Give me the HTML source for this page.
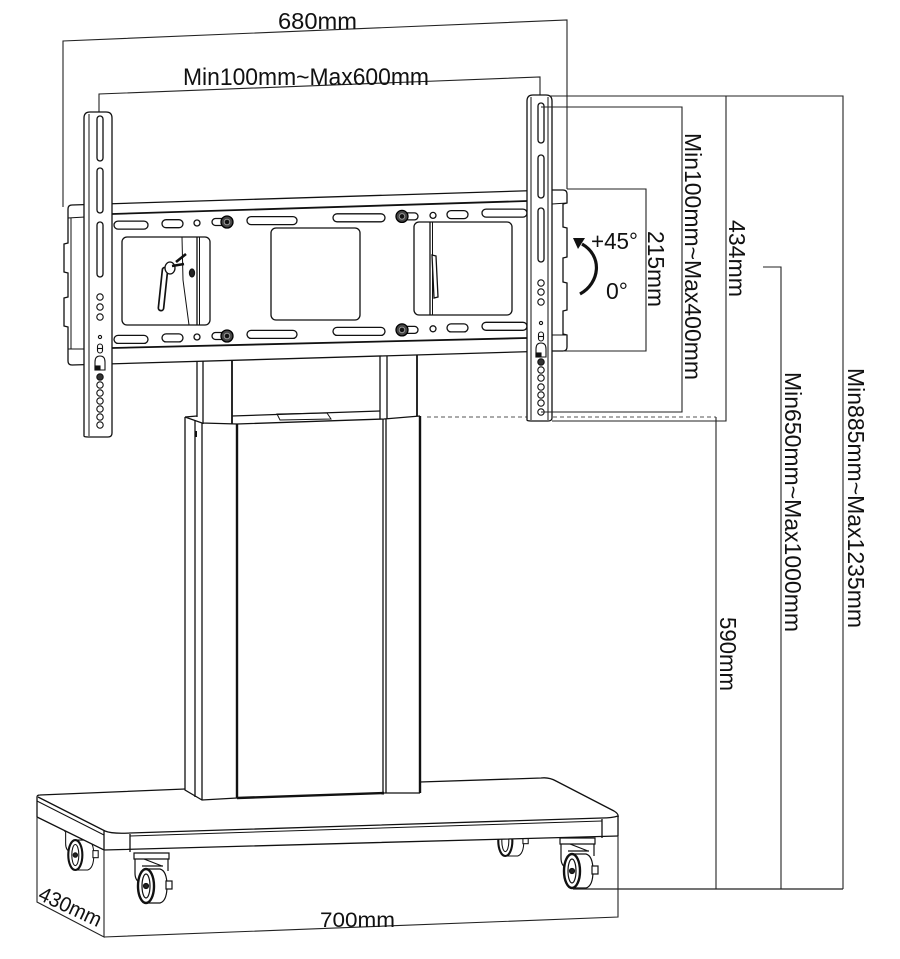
<!DOCTYPE html>
<html><head><meta charset="utf-8">
<style>
html,body{margin:0;padding:0;background:#fff;}
svg{display:block;}
text{font-family:"Liberation Sans",Arial,sans-serif;font-size:23px;fill:#111;}
</style></head><body>
<svg width="900" height="959" viewBox="0 0 900 959" xmlns="http://www.w3.org/2000/svg">

<!-- ===== dimension lines (behind) ===== -->
<g fill="none" stroke="#222" stroke-width="1.1">
  <polyline points="63,207 63,41 567,20 567,189"/>
  <polyline points="99,118 99,94 540,77 540,104"/>
  <line x1="427" y1="417" x2="716" y2="417" stroke="#555" stroke-dasharray="4,3"/>
</g>

<!-- ===== back casters ===== -->
<g fill="none" stroke="#111" stroke-width="1.2">
  <g transform="translate(63,826) scale(0.88)">
    <path d="M2,0 L37,0 L37,6 L2,6 Z" fill="#fff"/>
    <path d="M3,6 L3,20 Q3,28 9,30"/><path d="M36,6 L36,18"/>
    <path d="M14,16 L28,16 Q35,18 35,33 Q35,48 28,50 L14,50" fill="#fff"/>
    <ellipse cx="14" cy="33" rx="8" ry="17" fill="#fff" stroke-width="2.4"/>
    <ellipse cx="14" cy="33" rx="4" ry="12"/>
    <rect x="34" y="28" width="6" height="8" fill="#fff"/>
    <circle cx="14" cy="33" r="2.5" fill="#222"/>
  </g>
  <g transform="translate(493,812) scale(0.88)">
    <path d="M2,0 L37,0 L37,6 L2,6 Z" fill="#fff"/>
    <path d="M3,6 L3,20 Q3,28 9,30"/><path d="M36,6 L36,18"/>
    <path d="M14,16 L28,16 Q35,18 35,33 Q35,48 28,50 L14,50" fill="#fff"/>
    <ellipse cx="14" cy="33" rx="8" ry="17" fill="#fff" stroke-width="2.4"/>
    <ellipse cx="14" cy="33" rx="4" ry="12"/>
    <rect x="34" y="28" width="6" height="8" fill="#fff"/>
  </g>
</g>

<!-- ===== base slab ===== -->
<g fill="none" stroke="#111" stroke-width="1.3">
  <path d="M37,796 L541,778 L556,781 L618,815 L618,836 L104,850 L37,817 Z" fill="#fff" stroke="none"/>
  <path d="M37,817 L37,797 Q37,795 40,795 L185,789"/>
  <path d="M420,782 L541,778 Q549,777 556,781 L614,811 Q619,814 618,817"/>
  <path d="M38,797 L105,831 Q112,834 130,833 L602,818 Q612,818 618,816"/>
  <path d="M37,801 L104,835" stroke-width="1"/>
  <path d="M130,836 L602,821" stroke-width="1"/>
  <path d="M37,817 L104,850 L618,836"/>
  <line x1="104" y1="831" x2="104" y2="850"/>
  <line x1="130" y1="834" x2="130" y2="852"/>
  <line x1="602" y1="819" x2="602" y2="838"/>
  <line x1="618" y1="816" x2="618" y2="836"/>
</g>

<!-- ===== column lower box ===== -->
<g fill="none" stroke="#111" stroke-width="1.3">
  <polygon points="185,417 232,416 380,411 420,416 420,793 384,793 237,798 202,800 185,790" fill="#fff" stroke="none"/>
  <path d="M185,417 L185,790 L202,800 L237,798 L384,793 L420,793"/>
  <path d="M237,798 L384,793" stroke-width="2.4"/>
  <line x1="420" y1="416" x2="420" y2="793" stroke-width="2.4"/>
  <path d="M185,417 L197,416 M185,417 L202,423 L237,424 L384,419 L420,416"/>
  <path d="M232,416 L380,411"/>
  <line x1="195" y1="420" x2="195" y2="797"/>
  <line x1="202" y1="423" x2="202" y2="800"/>
  <line x1="237" y1="424" x2="237" y2="798" stroke-width="2.4"/>
  <line x1="383" y1="419" x2="383" y2="793"/>
  <line x1="386" y1="419" x2="386" y2="793"/>
  <polygon points="277,414 327,413 331,419 280,420" stroke-width="1"/>
  <rect x="195" y="431" width="2" height="6" fill="#111" stroke="none"/>
</g>

<!-- ===== upper tubes ===== -->
<g fill="none" stroke="#111" stroke-width="1.3">
  <rect x="197" y="355" width="35" height="61" fill="#fff" stroke="none"/>
  <rect x="380" y="348" width="37" height="63" fill="#fff" stroke="none"/>
  <line x1="197" y1="360" x2="197" y2="417"/>
  <line x1="203" y1="360" x2="203" y2="424"/>
  <line x1="232" y1="360" x2="232" y2="424" stroke-width="1.8"/>
  <line x1="380" y1="352" x2="380" y2="419"/>
  <line x1="387" y1="352" x2="387" y2="419"/>
  <line x1="417" y1="352" x2="417" y2="416" stroke-width="1.8"/>
</g>

<!-- ===== mounting plate ===== -->
<g fill="none" stroke="#111" stroke-width="1.3">
  <polygon points="68,205 567,189 567,351 68,365" fill="#fff" stroke="none"/>
  <path d="M72,205 Q68,205 68,209 L68,243 L64,244 L64,272 L68,273 L68,297 L64,298 L64,326 L68,327 L68,361 Q68,365 72,365"/>
  <path d="M68,218 L85,217 M68,349 L85,349 M71,218 L71,349" stroke-width="1"/>
  <path d="M552,190 L563,190 Q567,190 567,194 L567,203 L563,204 L563,227 L567,228 L567,257 L563,258 L563,282 L567,283 L567,310 L563,311 L563,334 L567,335 L567,347 Q567,351 563,351 L552,351"/>
  <path d="M552,204 L567,203 M552,335 L567,335" stroke-width="1"/>
  <path d="M72,205 L552,190"/>
  <path d="M112,214 L527,201" stroke-width="1.8"/>
  <path d="M112,348 L527,338" stroke-width="1.8"/>
  <path d="M72,365 L552,351"/>
  <rect x="114" y="221.1" width="34" height="8" rx="4"/>
  <rect x="162" y="219.7" width="21" height="8" rx="4"/>
  <circle cx="197" cy="223" r="3"/>
  <rect x="212" y="218.5" width="20" height="7" rx="3.5"/>
  <rect x="247" y="216.6" width="50" height="8" rx="4"/>
  <rect x="333" y="213.8" width="52" height="8" rx="4"/>
  <rect x="402" y="212.9" width="16" height="7" rx="3.5"/>
  <circle cx="433" cy="215.4" r="3"/>
  <rect x="447" y="210.6" width="21" height="8" rx="4"/>
  <rect x="482" y="209.1" width="45" height="8" rx="4"/>
  <rect x="114" y="335.4" width="34" height="8" rx="4"/>
  <rect x="162" y="333.9" width="21" height="8" rx="4"/>
  <circle cx="197" cy="337" r="3"/>
  <rect x="212" y="332.5" width="20" height="7" rx="3.5"/>
  <rect x="247" y="330.4" width="50" height="8" rx="4"/>
  <rect x="333" y="327.4" width="52" height="8" rx="4"/>
  <rect x="402" y="326.4" width="16" height="7" rx="3.5"/>
  <circle cx="433" cy="328.8" r="3"/>
  <rect x="447" y="323.9" width="21" height="8" rx="4"/>
  <rect x="482" y="322.3" width="45" height="8" rx="4"/>
  <g fill="#444" stroke="#000">
    <circle cx="227" cy="222" r="6"/><circle cx="402" cy="216.4" r="6"/>
    <circle cx="227" cy="336" r="6"/><circle cx="402" cy="329.9" r="6"/>
  </g>
  <g fill="#111" stroke="#999" stroke-width="1">
    <circle cx="227" cy="222" r="2.8"/><circle cx="402" cy="216.4" r="2.8"/>
    <circle cx="227" cy="336" r="2.8"/><circle cx="402" cy="329.9" r="2.8"/>
  </g>
  <rect x="122" y="237" width="88" height="88" rx="5"/>
  <rect x="271" y="228" width="89" height="92" rx="5"/>
  <rect x="414" y="222" width="98" height="93" rx="5"/>
  <line x1="197" y1="237" x2="197" y2="325"/>
  <line x1="199.5" y1="237" x2="199.5" y2="325" stroke-width="1"/>
  <path d="M182,237 L183,280 L189,325" stroke-width="1"/>
  <line x1="165" y1="270" x2="161" y2="308" stroke-width="7" stroke-linecap="round"/>
  <line x1="165" y1="270" x2="161" y2="308" stroke="#fff" stroke-width="3.6" stroke-linecap="round"/>
  <ellipse cx="170" cy="268" rx="5" ry="6" fill="#fff"/>
  <path d="M172,266 L184,264 M176,262 L186,254" stroke-width="2.6"/>
  <ellipse cx="192" cy="273" rx="2.5" ry="4" fill="#222"/>
  <line x1="430" y1="222" x2="430" y2="315"/>
  <line x1="432.5" y1="222" x2="432.5" y2="315" stroke-width="1"/>
  <polygon points="432,255 436,256 438,297 434,298" fill="#fff"/>
</g>

<!-- ===== left strip ===== -->
<g fill="none" stroke="#111" stroke-width="1.3">
  <path d="M84,436 L84,118 Q84,112 90,112 L106,112 Q112,112 112,118 L112,433 Q112,437 108,437 L88,437 Q84,437 84,436 Z" fill="#fff"/>
  <line x1="89" y1="114" x2="89" y2="436" stroke-width="1"/>
  <rect x="97" y="116" width="6" height="45" rx="3"/>
  <rect x="97" y="168" width="6" height="45" rx="3"/>
  <rect x="97" y="222" width="6" height="55" rx="3"/>
  <g stroke-width="1.1">
    <circle cx="100" cy="297" r="3.2"/><circle cx="100" cy="307" r="3.2"/><circle cx="100" cy="317" r="3.2"/>
    <circle cx="100" cy="337" r="1.6"/>
    <rect x="97.5" y="344" width="5" height="9" rx="2.5"/>
    <line x1="97.5" y1="348.5" x2="102.5" y2="348.5"/>
    <path d="M95,370 L95,362 Q95,356 100,356 Q105,356 105,362 L105,370 Z"/>
    <rect x="95" y="366" width="5" height="4" fill="#111"/>
    <circle cx="100" cy="377" r="3.2" fill="#333"/><circle cx="100" cy="385" r="3.2"/>
    <circle cx="100" cy="393" r="3.2"/><circle cx="100" cy="401" r="3.2"/>
    <circle cx="100" cy="409" r="3.2"/><circle cx="100" cy="417" r="3.2"/>
    <circle cx="100" cy="425" r="3.2"/>
  </g>
</g>

<!-- ===== right strip ===== -->
<g fill="none" stroke="#111" stroke-width="1.3">
  <path d="M527,420 L527,101 Q527,95 533,95 L546,95 Q552,95 552,101 L552,418 Q552,421 548,421 L531,421 Q527,421 527,420 Z" fill="#fff"/>
  <line x1="531" y1="97" x2="531" y2="420" stroke-width="1"/>
  <line x1="548" y1="97" x2="548" y2="420" stroke-width="1"/>
  <rect x="538" y="103" width="6" height="40" rx="3"/>
  <rect x="538" y="155" width="6" height="43" rx="3"/>
  <rect x="538" y="208" width="6" height="54" rx="3"/>
  <g stroke-width="1.1">
    <circle cx="541" cy="283" r="3.2"/><circle cx="541" cy="292" r="3.2"/><circle cx="541" cy="302" r="3.2"/>
    <circle cx="541" cy="323" r="1.6"/>
    <rect x="538.5" y="332" width="5" height="9" rx="2.5"/>
    <line x1="538.5" y1="336.5" x2="543.5" y2="336.5"/>
    <path d="M536,357 L536,349 Q536,343 541,343 Q546,343 546,349 L546,357 Z"/>
    <rect x="536" y="353" width="5" height="4" fill="#111"/>
    <circle cx="541" cy="362" r="3.2" fill="#333"/><circle cx="541" cy="370" r="3.2"/>
    <circle cx="541" cy="378" r="3.2"/><circle cx="541" cy="387" r="3.2"/>
    <circle cx="541" cy="395" r="3.2"/><circle cx="541" cy="403" r="3.2"/>
    <circle cx="541" cy="412" r="3.2"/>
  </g>
</g>

<!-- ===== front casters ===== -->
<g fill="none" stroke="#111" stroke-width="1.2">
  <g transform="translate(132,853)">
    <path d="M2,0 L37,0 L37,6 L2,6 Z" fill="#fff"/>
    <path d="M3,6 L3,20 Q3,28 9,30"/><path d="M36,6 L36,18"/>
    <path d="M12,6 L30,13 M10,13 L31,13"/>
    <path d="M14,16 L28,16 Q35,18 35,33 Q35,48 28,50 L14,50" fill="#fff"/>
    <ellipse cx="14" cy="33" rx="8" ry="17" fill="#fff" stroke-width="2.4"/>
    <ellipse cx="14" cy="33" rx="4" ry="12"/>
    <rect x="34" y="28" width="6" height="8" fill="#fff"/>
    <circle cx="14" cy="33" r="2.5" fill="#222"/>
  </g>
  <g transform="translate(558,838)">
    <path d="M2,0 L37,0 L37,6 L2,6 Z" fill="#fff"/>
    <path d="M3,6 L3,20 Q3,28 9,30"/><path d="M36,6 L36,18"/>
    <path d="M12,6 L30,13 M10,13 L31,13"/>
    <path d="M14,16 L28,16 Q35,18 35,33 Q35,48 28,50 L14,50" fill="#fff"/>
    <ellipse cx="14" cy="33" rx="8" ry="17" fill="#fff" stroke-width="2.4"/>
    <ellipse cx="14" cy="33" rx="4" ry="12"/>
    <rect x="34" y="28" width="6" height="8" fill="#fff"/>
    <circle cx="14" cy="33" r="2.5" fill="#222"/>
  </g>
</g>

<!-- ===== dimension lines (front) ===== -->
<g fill="none" stroke="#222" stroke-width="1.1">
  <polyline points="541,107 682,107 682,412 541,412"/>
  <polyline points="567,189 646,189 646,351 563,351"/>
  <polyline points="549,96 843,96 843,889"/>
  <polyline points="726,96 726,421 552,421"/>
  <line x1="716" y1="417" x2="716" y2="889"/>
  <polyline points="763,267 781,267 781,889"/>
  <line x1="573" y1="889" x2="843" y2="889" stroke-width="1.3"/>
  <polyline points="37,817 37,902 104,937 104,850"/>
  <polyline points="104,937 618,917 618,836"/>
</g>

<!-- rotation arrow -->
<path d="M580,294 C600,283 603,256 582,244" fill="none" stroke="#111" stroke-width="3.2"/>
<polygon points="573,238 585,238 578,249" fill="#111"/>

<!-- ===== labels ===== -->
<text x="278" y="29" textLength="79" lengthAdjust="spacingAndGlyphs">680mm</text>
<text x="183" y="85" style="font-size:24px" textLength="246" lengthAdjust="spacingAndGlyphs">Min100mm~Max600mm</text>
<text x="591" y="249" textLength="47" lengthAdjust="spacingAndGlyphs">+45°</text>
<text x="606" y="299" textLength="22" lengthAdjust="spacingAndGlyphs">0°</text>
<g style="font-size:24px">
<text transform="translate(648,231) rotate(90)" textLength="76" lengthAdjust="spacingAndGlyphs">215mm</text>
<text transform="translate(685,133) rotate(90)" textLength="247" lengthAdjust="spacingAndGlyphs">Min100mm~Max400mm</text>
<text transform="translate(729,220) rotate(90)" textLength="77" lengthAdjust="spacingAndGlyphs">434mm</text>
<text transform="translate(720,617) rotate(90)" textLength="74" lengthAdjust="spacingAndGlyphs">590mm</text>
<text transform="translate(785,372) rotate(90)" textLength="260" lengthAdjust="spacingAndGlyphs">Min650mm~Max1000mm</text>
<text transform="translate(848,368) rotate(90)" textLength="260" lengthAdjust="spacingAndGlyphs">Min885mm~Max1235mm</text>
</g>
<text transform="translate(37,899) rotate(25)" style="font-size:21px" textLength="67" lengthAdjust="spacingAndGlyphs">430mm</text>
<text x="320" y="927" style="font-size:21px" textLength="75" lengthAdjust="spacingAndGlyphs">700mm</text>

</svg>
</body></html>
